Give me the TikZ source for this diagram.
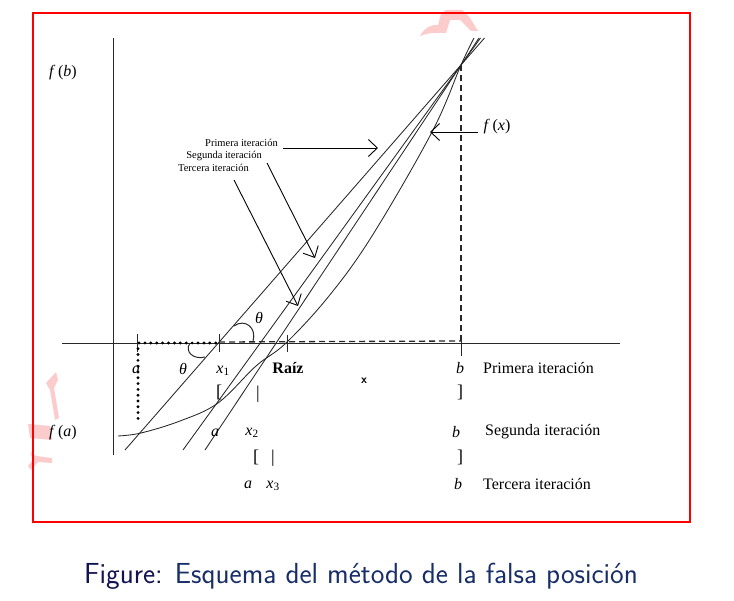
\documentclass[tikz,border=0pt]{standalone}
\usepackage{fontspec}
\newfontfamily\tms{Liberation Serif}
\usetikzlibrary{arrows.meta}
\definecolor{capnavy}{RGB}{18,18,80}
\definecolor{capblue}{RGB}{24,46,104}
\definecolor{wm}{RGB}{250,140,140}
\definecolor{ink}{RGB}{40,40,40}
\begin{document}
\begin{tikzpicture}[x=1pt,y=-1pt,
  graphline/.style={line width=0.85pt, draw=ink},
  axisline/.style={line width=0.9pt, draw=ink},
  tickln/.style={line width=0.9pt, draw=ink},
  dashln/.style={line width=1.3pt, draw=ink, dash pattern=on 6pt off 4pt},
  dotmark/.style={fill=black, draw=none},
  pointer/.style={line width=0.9pt, draw=black, -{Straight Barb[length=9pt,width=17pt,line width=0.9pt]}},
  lbl/.style={font=\tms\fontsize{16}{18}\selectfont, inner sep=0pt},
  ilbl/.style={font=\tms\itshape\fontsize{16}{18}\selectfont, inner sep=0pt},
  brk/.style={font=\tms\fontsize{18}{20}\selectfont, inner sep=0pt},
  smalllbl/.style={font=\tms\fontsize{10.5}{12}\selectfont, inner sep=0pt},
  wmark/.style={fill=wm, opacity=0.45, draw=none},
]
\useasboundingbox (0,0) rectangle (734,601);
\fill[white] (0,0) rectangle (734,601);

% watermark fragments
\fill[wmark] (420,36) .. controls (424,28) and (432,24) .. (438,25) -- (441,14) -- (446,10) -- (462,10) -- (470,18) -- (478,31) -- (471,31) -- (460,20) -- (450,20) -- (446,33) -- (438,33) .. controls (432,32) and (426,34) .. (420,36) -- cycle;
\fill[wmark] (46,383) -- (56,372) -- (58,380) -- (54,388) -- (59,418) -- (55,420) -- (50,390) -- cycle;
\fill[wmark] (28,424) -- (50,426) -- (52,440) -- (30,438) -- cycle;
\fill[wmark] (30,452) -- (36,456) -- (52,458) -- (52,463) -- (38,462) -- (31,470) -- (28,466) -- (33,460) -- cycle;

% red frame
\draw[red, line width=1.2pt] (33,13) rectangle (690,522);

% axes
\coordinate (yb) at (113,455);
\coordinate (yt) at (113,38);
\coordinate (xl) at (62,343);
\coordinate (xr) at (620,343);
\draw[axisline] (yb) -- (yt);
\draw[axisline] (xl) -- (xr);

% key points
\coordinate (B) at (461,65);
\coordinate (Bax) at (461,343);
\coordinate (A) at (137,343);
\coordinate (X1) at (219,342);

% ticks
\draw[tickln] (137,334) -- (137,352);
\draw[tickln] (219,334) -- (219,352);
\draw[tickln] (287,335) -- (287,352);
\draw[tickln] (461,335) -- (461,356);

% dashed and dotted guides
\draw[dashln] (B) -- (Bax);
\draw[dashln] (X1) -- (461,341);
\foreach \i in {0,...,13} \fill[dotmark] (139+5.9*\i,343) circle (1.6pt);
\foreach \i in {1,...,13} \fill[dotmark] (138,343+5.8*\i) circle (1.6pt);

% secant lines
\coordinate (s1b) at (125,450); \coordinate (s1t) at (484.5,38);
\coordinate (s2b) at (183,450); \coordinate (s2t) at (480.5,38);
\coordinate (s3b) at (205,450); \coordinate (s3t) at (479,38);
\draw[graphline] (s1b) -- (s1t);
\draw[graphline] (s2b) -- (s2t);
\draw[graphline] (s3b) -- (s3t);

% function curve
\draw[graphline] plot[smooth, tension=0.6] coordinates {(118,436) (141,433) (180,421) (218,403) (256,366) (286,343) (329,296) (372,236) (432,132) (461,65) (474,38)};

% theta arcs
\draw[graphline, line width=1pt] (234,326) .. controls (245,318) and (257,328) .. (253,341);
\draw[graphline, line width=1pt] (190,343) .. controls (184,352) and (194,360) .. (205,357);

% labels
\node[lbl] (fb) at (63,73) {\textit{f}\,(\textit{b})};
\node[lbl] (fa) at (63,433) {\textit{f}\,(\textit{a})};
\node[lbl] (fx) at (497,127) {\textit{f}\,(\textit{x})};
\node[ilbl] (th1) at (259,318) {θ};
\node[ilbl] (th2) at (183,369) {θ};

\node[ilbl] (a1) at (136,370) {a};
\node[ilbl] (x1l) at (223,371) {x\textsubscript{\upshape 1}};
\node[lbl, font=\tms\bfseries\fontsize{16}{18}\selectfont] (raiz) at (288,368) {Raíz};
\node[font=\sffamily\bfseries\fontsize{12}{12}\selectfont, inner sep=0pt] (mk) at (364,381) {x};
\node[ilbl] (b1) at (460,368) {b};
\node[lbl, anchor=west] (it1) at (483,368) {Primera iteración};

\node[brk] (lb1) at (219,392) {[};
\node[brk] (mb1) at (258,394) {|};
\node[brk] (rb1) at (460,392) {]};

\node[ilbl] (a2) at (215,433) {a};
\node[ilbl] (x2l) at (252,433) {x\textsubscript{\upshape 2}};
\node[ilbl] (b2) at (456,432) {b};
\node[lbl, anchor=west] (it2) at (485,432) {Segunda iteración};

\node[brk] (lb2) at (256,457) {[};
\node[brk] (mb2) at (273,458) {|};
\node[brk] (rb2) at (460,457) {]};

\node[ilbl] (a3) at (248,485) {a};
\node[ilbl] (x3l) at (273,486) {x\textsubscript{\upshape 3}};
\node[ilbl] (b3) at (458,484) {b};
\node[lbl, anchor=west] (it3) at (483,484) {Tercera iteración};

% small labels and pointers
\node[smalllbl, anchor=east] (p1) at (278,143) {Primera iteración};
\node[smalllbl, anchor=east] (p2) at (262,156) {Segunda iteración};
\node[smalllbl, anchor=east] (p3) at (249,168) {Tercera iteración};
\coordinate (p1s) at (283,148); \coordinate (p1e) at (378,148);
\coordinate (p2s) at (267,163); \coordinate (p2e) at (315,258);
\coordinate (p3s) at (234,180); \coordinate (p3e) at (298,306);
\coordinate (fxs) at (478,132); \coordinate (fxe) at (430,132);
\draw[pointer] (p1s) -- (p1e);
\draw[pointer] (p2s) -- (p2e);
\draw[pointer] (p3s) -- (p3e);
\draw[pointer] (fxs) -- (fxe);

% caption
\node[font=\sffamily\fontsize{29}{32}\selectfont, inner sep=0pt] (cap) at (361,576) {\textcolor{capnavy}{Figure:} \textcolor{capblue}{Esquema del método de la falsa posición}};
\end{tikzpicture}
\end{document}
